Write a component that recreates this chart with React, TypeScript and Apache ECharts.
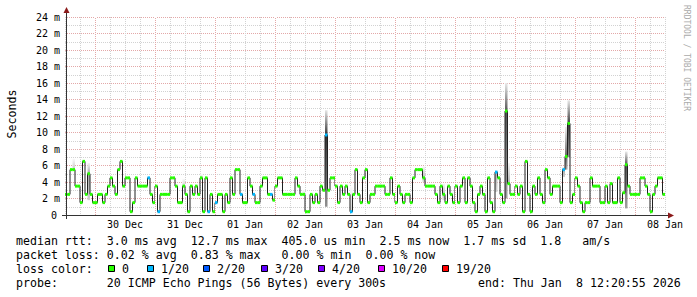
import React, { useEffect, useRef } from 'react';
import * as echarts from 'echarts';

// ---------------- data ----------------
// x axis: hours since 29 Dec 12:00, one median value per hour (240 h = 10 days)
const dayLabels = ['30 Dec', '31 Dec', '01 Jan', '02 Jan', '03 Jan', '04 Jan', '05 Jan', '06 Jan', '07 Jan', '08 Jan'];

const medianMs = [
  2.5, 2.5, 5.5, 5.5, 3.5, 3.5, 1.5, 6.5, 2.5, 5.0, 2.5, 1.5,
  1.5, 2.5, 2.5, 1.5, 2.5, 3.5, 4.5, 3.5, 2.5, 5.5, 6.5, 3.5,
  4.5, 4.5, 0.4, 1.5, 4.5, 3.5, 3.5, 3.5, 3.5, 4.5, 2.5, 1.5,
  3.5, 0.4, 2.5, 2.5, 2.5, 2.5, 4.5, 4.5, 3.5, 1.5, 1.5, 3.5,
  2.5, 0.4, 3.5, 2.5, 3.5, 2.5, 4.5, 0.4, 4.5, 0.4, 2.5, 0.4,
  1.5, 2.5, 2.5, 0.4, 2.5, 1.5, 4.5, 2.5, 5.5, 5.5, 2.5, 1.5,
  1.5, 4.5, 3.5, 2.5, 1.5, 1.5, 3.5, 4.5, 4.5, 2.5, 2.5, 1.8,
  3.5, 4.5, 4.5, 2.5, 2.5, 2.5, 2.5, 2.5, 4.5, 3.5, 2.5, 2.5,
  0.4, 0.4, 2.5, 1.5, 2.5, 1.5, 3.5, 3.0, 9.7, 3.0, 4.5, 4.5,
  3.5, 1.5, 3.5, 2.5, 3.5, 2.5, 0.4, 2.5, 5.5, 2.5, 1.5, 4.5,
  5.5, 1.5, 2.5, 2.5, 3.5, 3.5, 3.5, 3.5, 2.5, 2.5, 4.5, 2.5,
  1.5, 3.5, 2.5, 1.5, 2.5, 2.5, 1.5, 4.5, 5.5, 5.5, 5.5, 4.5,
  3.5, 3.5, 3.5, 3.5, 2.5, 1.5, 3.5, 2.5, 1.5, 3.5, 2.5, 1.5,
  3.5, 1.5, 3.5, 4.5, 1.5, 4.5, 3.5, 1.5, 0.4, 2.5, 3.5, 2.5,
  0.4, 4.5, 1.5, 0.4, 5.2, 4.5, 2.5, 1.5, 12.6, 3.8, 2.5, 2.5,
  3.5, 2.5, 3.5, 0.4, 6.5, 2.5, 0.4, 3.5, 2.5, 4.5, 2.5, 1.5,
  5.5, 4.5, 2.5, 3.5, 3.5, 3.5, 1.5, 5.5, 7.1, 11.1, 1.5, 2.5,
  4.5, 3.5, 1.5, 0.4, 1.5, 1.5, 4.5, 3.5, 3.5, 3.5, 1.5, 1.5,
  3.5, 1.5, 3.8, 1.5, 1.5, 4.5, 1.5, 2.7, 6.1, 3.5, 2.5, 2.5,
  2.5, 2.5, 4.5, 4.5, 3.5, 2.5, 0.4, 2.5, 3.5, 4.5, 4.5, 2.5,
];

// hours with lost pings (count out of 20)
const lossHours = [33, 37, 57, 60, 70, 75, 82, 104, 114, 172, 199];
const lossCounts = [1, 1, 1, 1, 1, 1, 1, 1, 1, 1, 1];

// "smoke": spread of the 20 pings for the hours where it is visible
const smokeHour = [3, 9, 47, 54, 95, 104, 114, 143, 151, 172, 176, 177, 199, 200, 201, 224];
const smokeLow = [5.5, 1.8, 3.5, 4.5, 2.4, 1.0, 0.4, 4.0, 1.8, 2.8, 2.0, 3.9, 4.6, 5.5, 7.0, 0.8];
const smokeHigh = [6.8, 6.3, 4.4, 5.0, 3.0, 12.7, 3.4, 5.9, 3.8, 5.4, 16.0, 6.3, 5.8, 10.7, 13.9, 7.7];
const smokeDensity = [0.25, 0.4, 0.2, 0.2, 0.15, 0.95, 0.2, 0.3, 0.3, 0.35, 0.8, 0.35, 0.4, 0.7, 0.9, 0.8];

const lossLevels = [0, 1, 2, 3, 4, 10, 19];
const lossLabels = ['0', '1/20', '2/20', '3/20', '4/20', '10/20', '19/20'];
const lossColors = ['#26ff00', '#00b8ff', '#0059ff', '#5e00ff', '#7e00ff', '#dd00ff', '#ff0000'];

const rttStats = ['median rtt:', '3.0 ms avg', '12.7 ms max', '405.0 us min', '2.5 ms now', '1.7 ms sd', '1.8', 'am/s'];
const lossStats = ['packet loss:', '0.02 % avg', '0.83 % max', '0.00 % min', '0.00 % now'];
const lossColorTitle = 'loss color:';
const probeInfo = ['probe:', '20 ICMP Echo Pings (56 Bytes) every 300s', 'end: Thu Jan', '8 12:20:55 2026'];
const yUnitLabel = 'Seconds';
const watermark = 'RRDTOOL / TOBI OETIKER';

// ---------------- layout / style ----------------
const W = 697;
const H = 297;
const MONO = '"DejaVu Sans Mono", monospace';
const GRID_GRAY = '#d2d2d2';
const GRID_RED = '#e3a8a8';
const AXIS_COLOR = '#333333';
const ARROW_COLOR = '#8b1a1a';

// legend text laid out on a monospace character grid
const LEG_X0 = 16;
const CW = 6.99;
const rttCols = [0, 13, 25, 38, 52, 64, 75, 81];
const lossCols = [0, 13, 25, 38, 50];
const boxX = [108, 147, 203, 261, 318, 378, 442];
const probeCols = [0, 13];
const probeEndX = [478, 576];
const LINE_Y = [241, 255, 269, 283];
const colX = (c: number) => LEG_X0 + c * CW;

function lossAt(hour: number): number {
  const i = lossHours.indexOf(hour);
  return i >= 0 ? lossCounts[i] : 0;
}
function lossColor(count: number): string {
  let idx = 0;
  for (let i = 0; i < lossLevels.length; i++) if (count >= lossLevels[i]) idx = i;
  return lossColors[idx];
}

const totalHours = medianMs.length;
const midnights: number[] = [];
for (let h = 12; h < totalHours; h += 24) midnights.push(h);

function legendText(text: string, x: number, y: number, size = 11.6) {
  return {
    type: 'text',
    x,
    y,
    silent: true,
    z: 10,
    style: {
      text,
      fill: '#000000',
      fontSize: size,
      fontFamily: MONO,
      align: 'left',
      verticalAlign: 'middle',
      textAlign: 'left',
      textVerticalAlign: 'middle',
    },
  };
}

function buildOption(): any {
  const stepPoints: number[][] = [];
  medianMs.forEach((v, k) => {
    stepPoints.push([k, v]);
    stepPoints.push([k + 1, v]);
  });
  const bandData = medianMs.map((v, k) => [k, k + 1, v, lossAt(k)]);
  const smokeData = smokeHour.map((h, i) => [h, smokeLow[i], smokeHigh[i], medianMs[h], smokeDensity[i]]);

  const graphics: any[] = [];
  // axes with arrows
  graphics.push({ type: 'line', silent: true, z: 20, shape: { x1: 66.5, y1: 219, x2: 66.5, y2: 12 }, style: { stroke: AXIS_COLOR, lineWidth: 1 } });
  graphics.push({ type: 'line', silent: true, z: 20, shape: { x1: 62, y1: 215.5, x2: 669, y2: 215.5 }, style: { stroke: AXIS_COLOR, lineWidth: 1 } });
  graphics.push({ type: 'polygon', silent: true, z: 21, shape: { points: [[63.5, 13], [69.5, 13], [66.5, 7]] }, style: { fill: ARROW_COLOR } });
  graphics.push({ type: 'polygon', silent: true, z: 21, shape: { points: [[668, 212.5], [668, 218.5], [674, 215.5]] }, style: { fill: ARROW_COLOR } });
  // unit label and watermark
  graphics.push({
    type: 'text', silent: true, x: 11.5, y: 114, rotation: Math.PI / 2,
    style: { text: yUnitLabel, fill: '#000', fontSize: 11.6, fontFamily: MONO, align: 'center', verticalAlign: 'middle', textAlign: 'center', textVerticalAlign: 'middle' },
  });
  graphics.push({
    type: 'text', silent: true, x: 686, y: 5, rotation: -Math.PI / 2,
    style: { text: watermark, fill: '#aaaaaa', fontSize: 8, fontFamily: MONO, align: 'left', verticalAlign: 'middle', textAlign: 'left', textVerticalAlign: 'middle' },
  });
  // legend lines
  rttStats.forEach((t, i) => graphics.push(legendText(t, colX(rttCols[i]), LINE_Y[0])));
  lossStats.forEach((t, i) => graphics.push(legendText(t, colX(lossCols[i]), LINE_Y[1])));
  graphics.push(legendText(lossColorTitle, LEG_X0, LINE_Y[2]));
  lossLabels.forEach((t, i) => {
    graphics.push({
      type: 'rect', silent: true, z: 10,
      shape: { x: boxX[i] + 0.5, y: LINE_Y[2] - 3.5, width: 6, height: 6 },
      style: { fill: lossColors[i], stroke: '#000000', lineWidth: 1 },
    });
    graphics.push(legendText(t, boxX[i] + 14, LINE_Y[2]));
  });
  graphics.push(legendText(probeInfo[0], colX(probeCols[0]), LINE_Y[3]));
  graphics.push(legendText(probeInfo[1], colX(probeCols[1]), LINE_Y[3]));
  graphics.push(legendText(probeInfo[2], probeEndX[0], LINE_Y[3]));
  graphics.push(legendText(probeInfo[3], probeEndX[1], LINE_Y[3]));

  const markLineBase = {
    silent: true,
    symbol: ['none', 'none'],
    label: { show: false },
    emphasis: { disabled: true },
    animation: false,
    data: midnights.map((h) => ({ xAxis: h })),
  };

  return {
    animation: false,
    backgroundColor: '#ffffff',
    grid: { left: 65, right: 32, top: 17, bottom: 82, containLabel: false, outerBoundsMode: 'none' },
    xAxis: {
      type: 'value',
      min: 0,
      max: totalHours,
      interval: 24,
      axisLine: { show: false },
      axisTick: { show: false },
      axisLabel: {
        show: true,
        margin: 4,
        fontFamily: MONO,
        fontSize: 10,
        color: '#000000',
        showMinLabel: true,
        showMaxLabel: true,
        formatter: (v: number) => (v === 0 ? '' : dayLabels[Math.round(v / 24) - 1] || ''),
      },
      splitLine: { show: true, lineStyle: { color: GRID_GRAY, type: 'dotted', width: 1 } },
      minorTick: { show: false, splitNumber: 4 },
      minorSplitLine: { show: true, lineStyle: { color: GRID_GRAY, type: 'dotted', width: 1 } },
    },
    yAxis: {
      type: 'value',
      min: 0,
      max: 24,
      interval: 2,
      axisLine: { show: false },
      axisTick: { show: false },
      axisLabel: {
        margin: 5,
        fontFamily: MONO,
        fontSize: 10,
        color: '#000000',
        formatter: (v: number) => (v === 0 ? '{z|0}' : `${v} m`),
        rich: { z: { fontFamily: MONO, fontSize: 10, color: '#000000', padding: [0, 3, 0, 0] } },
      },
      splitLine: { show: true, lineStyle: { color: GRID_RED, type: 'dotted', width: 1 } },
      minorTick: { show: false, splitNumber: 2 },
      minorSplitLine: { show: true, lineStyle: { color: GRID_GRAY, type: 'dotted', width: 1 } },
    },
    series: [
      {
        type: 'line', data: [], z: 1, silent: true,
        markLine: { ...markLineBase, lineStyle: { color: '#ffffff', type: 'solid', width: 1 } },
      },
      {
        type: 'line', data: [], z: 2, silent: true,
        markLine: { ...markLineBase, lineStyle: { color: GRID_RED, type: 'dotted', width: 1 } },
      },
      {
        type: 'custom', z: 3, silent: true, data: smokeData,
        encode: { x: 0, y: [1, 2] },
        renderItem: (params: any, api: any) => {
          const h = api.value(0);
          const lo = api.value(1);
          const hi = api.value(2);
          const med = api.value(3);
          const d = api.value(4);
          const p1 = api.coord([h, hi]);
          const p2 = api.coord([h + 1, lo]);
          const f = Math.min(1, Math.max(0, (hi - med) / (hi - lo)));
          const c = (k: number) => {
            const g = Math.round(255 - 215 * d * k);
            return `rgb(${g},${g},${g})`;
          };
          return {
            type: 'rect',
            shape: { x: p1[0], y: p1[1], width: p2[0] - p1[0], height: p2[1] - p1[1] },
            style: {
              fill: new echarts.graphic.LinearGradient(0, 0, 0, 1, [
                { offset: 0, color: c(0.12) },
                { offset: f, color: c(1) },
                { offset: 1, color: c(0.55) },
              ]),
            },
          };
        },
      },
      {
        type: 'line', z: 4, silent: true, data: stepPoints,
        showSymbol: false, symbol: 'none',
        lineStyle: { color: '#202020', width: 1 },
      },
      {
        type: 'custom', z: 5, silent: true, data: bandData,
        encode: { x: [0, 1], y: 2 },
        renderItem: (params: any, api: any) => {
          const s = api.coord([api.value(0), api.value(2)]);
          const e = api.coord([api.value(1), api.value(2)]);
          return {
            type: 'rect',
            shape: { x: s[0], y: s[1] - 1.5, width: e[0] - s[0], height: 3 },
            style: { fill: lossColor(api.value(3)) },
          };
        },
      },
    ],
    graphic: { elements: graphics },
  };
}

export default function App() {
  const ref = useRef<HTMLDivElement>(null);
  useEffect(() => {
    if (!ref.current) return;
    const chart = echarts.init(ref.current, null, { renderer: 'svg', width: W, height: H });
    chart.setOption(buildOption());
    return () => chart.dispose();
  }, []);
  return (
    <div
      ref={ref}
      style={{ position: 'fixed', left: 0, top: 0, width: W, height: H, background: '#ffffff' }}
    />
  );
}
